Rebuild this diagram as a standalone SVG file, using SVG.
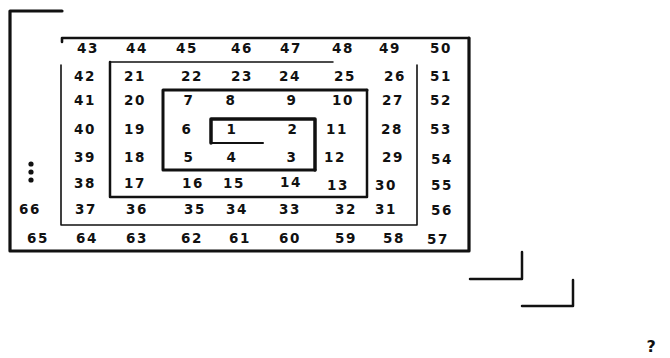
<svg xmlns="http://www.w3.org/2000/svg" width="670" height="358" viewBox="0 0 670 358">
<style>
.ln{fill:none;stroke:#111;stroke-linecap:round;stroke-linejoin:round}
.n{font-family:"DejaVu Sans","Liberation Sans",sans-serif;font-weight:bold;font-size:13.5px;fill:#111;text-anchor:middle;letter-spacing:1.5px}
</style>
<rect width="670" height="358" fill="#fff"/>
<g id="spiral">
<path class="ln" stroke-width="2" d="M263,143 H211"/>
<path class="ln" stroke-width="3.5" d="M211,143 V119 H315 V170"/>
<path class="ln" stroke-width="3" d="M315,170 H163 V90 H367"/>
<path class="ln" stroke-width="2.5" d="M367,90 V197 H110 V62"/>
<path class="ln" stroke-width="1.5" d="M110,62 H333"/>
<path class="ln" stroke-width="1.6" d="M417,65 V225 H61 V65"/>
<path class="ln" stroke-width="2.6" d="M62,42 V38 H469"/>
<path class="ln" stroke-width="3.2" d="M469,38 V251 H10 V11 H62"/>
</g>
<g id="steps">
<path class="ln" stroke-width="2.5" d="M470,279 H522 V252"/>
<path class="ln" stroke-width="2.5" d="M522,306 H573 V280"/>
</g>
<g id="dots" fill="#111">
<circle cx="31" cy="164" r="2.6"/>
<circle cx="31" cy="172" r="2.6"/>
<circle cx="31" cy="180" r="2.6"/>
</g>
<g id="numbers" class="n">
<text class="n" x="88" y="53">43</text>
<text class="n" x="137" y="53">44</text>
<text class="n" x="187" y="53">45</text>
<text class="n" x="242" y="53">46</text>
<text class="n" x="291" y="53">47</text>
<text class="n" x="343" y="53">48</text>
<text class="n" x="390" y="53">49</text>
<text class="n" x="441" y="53">50</text>

<text class="n" x="85" y="81">42</text>
<text class="n" x="135" y="81">21</text>
<text class="n" x="192" y="81">22</text>
<text class="n" x="242" y="81">23</text>
<text class="n" x="290" y="81">24</text>
<text class="n" x="345" y="81">25</text>
<text class="n" x="395" y="81">26</text>
<text class="n" x="441" y="81">51</text>

<text class="n" x="85" y="105">41</text>
<text class="n" x="135" y="105">20</text>
<text class="n" x="189" y="105">7</text>
<text class="n" x="231" y="105">8</text>
<text class="n" x="292" y="105">9</text>
<text class="n" x="343" y="105">10</text>
<text class="n" x="393" y="105">27</text>
<text class="n" x="441" y="105">52</text>

<text class="n" x="85" y="134">40</text>
<text class="n" x="135" y="134">19</text>
<text class="n" x="187" y="134">6</text>
<text class="n" x="232" y="134">1</text>
<text class="n" x="293" y="134">2</text>
<text class="n" x="337" y="134">11</text>
<text class="n" x="392" y="134">28</text>
<text class="n" x="441" y="134">53</text>

<text class="n" x="85" y="162">39</text>
<text class="n" x="135" y="162">18</text>
<text class="n" x="189" y="162">5</text>
<text class="n" x="232" y="162">4</text>
<text class="n" x="292" y="162">3</text>
<text class="n" x="335" y="162">12</text>
<text class="n" x="393" y="162">29</text>
<text class="n" x="442" y="164">54</text>

<text class="n" x="85" y="188">38</text>
<text class="n" x="135" y="188">17</text>
<text class="n" x="193" y="188">16</text>
<text class="n" x="234" y="188">15</text>
<text class="n" x="291" y="187">14</text>
<text class="n" x="338" y="190">13</text>
<text class="n" x="386" y="190">30</text>
<text class="n" x="442" y="190">55</text>

<text class="n" x="30" y="214">66</text>
<text class="n" x="86" y="214">37</text>
<text class="n" x="137" y="214">36</text>
<text class="n" x="195" y="214">35</text>
<text class="n" x="237" y="214">34</text>
<text class="n" x="290" y="214">33</text>
<text class="n" x="346" y="214">32</text>
<text class="n" x="386" y="214">31</text>
<text class="n" x="442" y="215">56</text>

<text class="n" x="38" y="243">65</text>
<text class="n" x="87" y="243">64</text>
<text class="n" x="137" y="243">63</text>
<text class="n" x="192" y="243">62</text>
<text class="n" x="240" y="243">61</text>
<text class="n" x="290" y="243">60</text>
<text class="n" x="346" y="243">59</text>
<text class="n" x="394" y="243">58</text>
<text class="n" x="438" y="244">57</text>

<text class="n" x="652" y="352" style="font-size:16px">?</text>
</g>
</svg>
